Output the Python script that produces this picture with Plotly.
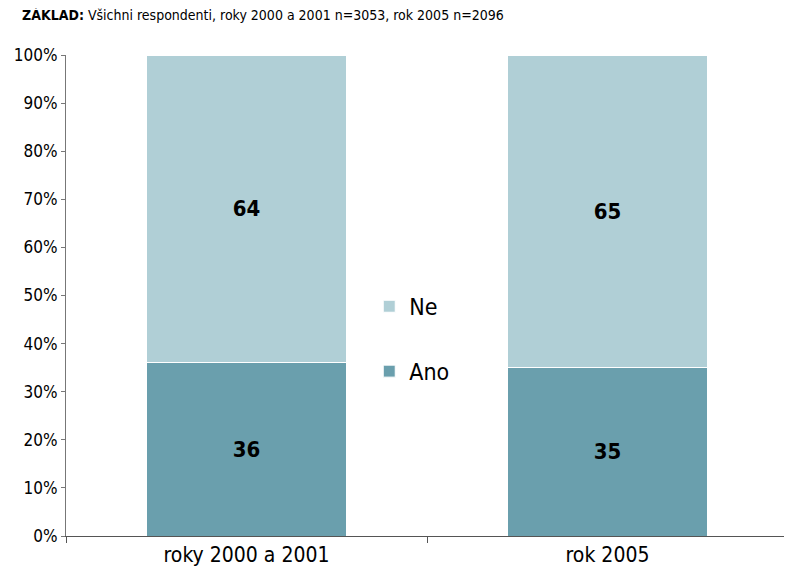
import plotly.graph_objects as go

categories = ["roky 2000 a 2001", "rok 2005"]
ano = [36, 35]
ne = [64, 65]
y_ticks = [0, 10, 20, 30, 40, 50, 60, 70, 80, 90, 100]
y_tick_labels = [f"{v}%" for v in y_ticks]

FONT = "Liberation Sans Narrow, DejaVu Sans Condensed, Arial Narrow, Liberation Sans, sans-serif"

fig = go.Figure()
fig.add_trace(go.Bar(
    x=categories, y=ano, name="Ano", legendgroup="ano", legendrank=2,
    marker=dict(color="#6A9FAD", line=dict(color="white", width=1)),
    text=ano, textposition="inside", insidetextanchor="middle",
    textfont=dict(family=FONT, size=22, color="black", weight="bold"),
    width=0.554,
))
fig.add_trace(go.Bar(
    x=categories, y=ne, name="Ne", legendgroup="ne", legendrank=1,
    marker=dict(color="#B0CFD6", line=dict(color="white", width=1)),
    text=ne, textposition="inside", insidetextanchor="middle",
    textfont=dict(family=FONT, size=22, color="black", weight="bold"),
    width=0.554,
))

fig.update_layout(
    width=784, height=567,
    margin=dict(l=58, r=4, t=47, b=39),
    barmode="stack",
    plot_bgcolor="white", paper_bgcolor="white",
    font=dict(family=FONT, color="black"),
    showlegend=True,
    legend=dict(
        x=0.42, y=0.41, xanchor="left", yanchor="middle",
        traceorder="grouped", tracegroupgap=32,
        font=dict(size=23, family=FONT), itemwidth=30,
        bgcolor="rgba(0,0,0,0)",
    ),
    annotations=[dict(
        xref="paper", yref="paper", x=0, y=1,
        xanchor="left", yanchor="bottom",
        text="<b>ZÁKLAD:</b> Všichni respondenti, roky 2000 a 2001 n=3053, rok 2005 n=2096",
        showarrow=False, font=dict(size=14, family=FONT, color="black"),
        yshift=30, xshift=-46,
    )],
)
fig.update_xaxes(
    showline=True, linecolor="#555555", linewidth=1,
    ticks="outside", tickson="boundaries", ticklen=6, tickcolor="#555555",
    tickfont=dict(size=21, family=FONT),
    showgrid=False, range=[-0.5, 1.5], automargin=False,
)
fig.update_yaxes(
    range=[0, 100], tickvals=y_ticks, ticktext=y_tick_labels,
    showline=True, linecolor="#777777", linewidth=1,
    ticks="outside", ticklen=4, tickcolor="#777777",
    tickfont=dict(size=17, family=FONT),
    showgrid=False, zeroline=False, automargin=False,
)

fig.write_html("out.html")
